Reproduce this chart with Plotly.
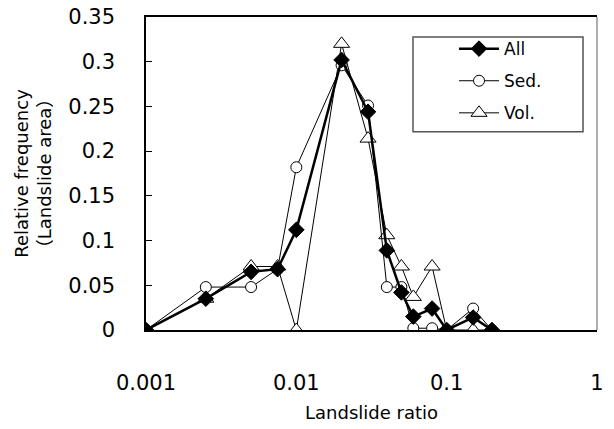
import plotly.graph_objects as go

x_ratio = [0.001, 0.0025, 0.005, 0.0075, 0.01, 0.02, 0.03, 0.04, 0.05, 0.06, 0.08, 0.1, 0.15, 0.2]
all_vals = [0.0, 0.035, 0.065, 0.068, 0.112, 0.302, 0.244, 0.089, 0.042, 0.015, 0.024, 0.0, 0.014, 0.0]
sed_vals = [0.0, 0.048, 0.048, 0.068, 0.182, 0.296, 0.251, 0.048, 0.048, 0.002, 0.002, 0.0, 0.024, 0.0]
vol_vals = [0.0, 0.035, 0.071, 0.071, 0.0, 0.320, 0.214, 0.106, 0.071, 0.037, 0.071, 0.0, 0.0, 0.0]

x_tickvals = [0.001, 0.01, 0.1, 1]
x_ticktext = ["0.001", "0.01", "0.1", "1"]
y_tickvals = [0, 0.05, 0.1, 0.15, 0.2, 0.25, 0.3, 0.35]
y_ticktext = ["0", "0.05", "0.1", "0.15", "0.2", "0.25", "0.3", "0.35"]

FONT = "DejaVu Sans, Noto Sans CJK JP, sans-serif"

fig = go.Figure()
fig.add_trace(go.Scatter(
    x=x_ratio, y=vol_vals, name="Vol.", mode="lines+markers",
    line=dict(color="black", width=1),
    marker=dict(symbol="triangle-up", size=14, color="white", line=dict(color="black", width=1)),
    legendrank=3, legendgroup="c"))
fig.add_trace(go.Scatter(
    x=x_ratio, y=sed_vals, name="Sed.", mode="lines+markers",
    line=dict(color="black", width=1),
    marker=dict(symbol="circle", size=11, color="white", line=dict(color="black", width=1)),
    legendrank=2, legendgroup="b"))
fig.add_trace(go.Scatter(
    x=x_ratio, y=all_vals, name="All", mode="lines+markers",
    line=dict(color="black", width=2.5),
    marker=dict(symbol="diamond", size=12, color="black", line=dict(color="black", width=1)),
    legendrank=1, legendgroup="a"))

fig.add_shape(type="rect", xref="paper", yref="paper", x0=0.592, x1=0.969, y0=0.633, y1=0.936,
              line=dict(color="#555555", width=1.5), fillcolor="rgba(0,0,0,0)", layer="above")
fig.add_shape(type="line", xref="paper", yref="paper", x0=1, x1=1, y0=0, y1=1,
              line=dict(color="#777777", width=1.2))

fig.update_layout(
    width=614, height=429,
    margin=dict(l=146, r=17, t=17, b=99),
    paper_bgcolor="white", plot_bgcolor="white",
    font=dict(family=FONT, color="black"),
    showlegend=True,
    legend=dict(x=0.683, y=0.955, xanchor="left", yanchor="top",
                bgcolor="rgba(0,0,0,0)", borderwidth=0, itemwidth=40,
                font=dict(size=17, family=FONT), tracegroupgap=7, traceorder="grouped"),
    xaxis=dict(type="log", range=[-3, 0], tickvals=x_tickvals, ticktext=x_ticktext,
               ticks="", showgrid=False, zeroline=False, automargin=False,
               ticklabeloverflow="allow",
               showline=True, linecolor="black", linewidth=1.5, mirror=True,
               tickfont=dict(size=21), ticklabelstandoff=33,
               title=dict(text="Landslide ratio", font=dict(size=18), standoff=12)),
    yaxis=dict(range=[0, 0.35], tickvals=y_tickvals, ticktext=y_ticktext,
               ticks="inside", ticklen=6, tickcolor="black", tickwidth=1,
               showgrid=False, zeroline=False, automargin=False,
               ticklabeloverflow="allow",
               showline=True, linecolor="black", linewidth=1.5,
               tickfont=dict(size=21), ticklabelstandoff=25,
               title=dict(text="Relative frequency<br>（Landslide area）", font=dict(size=18), standoff=12)),
)

# remove the page's default 8px body margin so the figure fills the window exactly
fig.write_html("out.html", config={"displayModeBar": False},
               post_script="document.body.style.margin='0px';")
